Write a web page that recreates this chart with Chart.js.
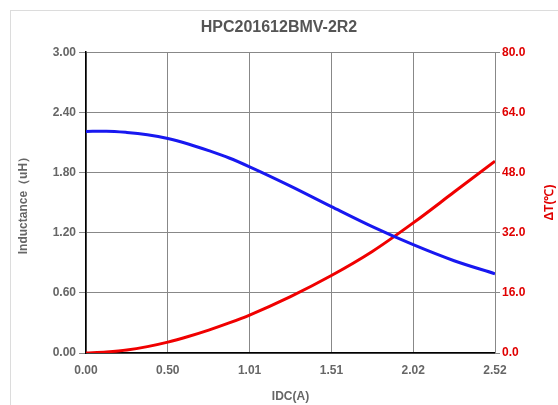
<!DOCTYPE html>
<html>
<head>
<meta charset="utf-8">
<script src="https://cdn.jsdelivr.net/npm/chart.js@4"></script>
<style>
  html, body { margin: 0; padding: 0; background: #fff; }
  #wrap { position: relative; width: 558px; height: 405px; }
  #frame { position: absolute; left: 10px; top: 10px; width: 600px; height: 500px;
           border-left: 1px solid #dcdcdc; border-top: 1px solid #dcdcdc; }
  canvas { position: absolute; left: 0; top: 0; }
</style>
</head>
<body>
<div id="wrap">
  <div id="frame"></div>
  <canvas id="chart" width="558" height="405"></canvas>
</div>
<script>
const chartTitle = 'HPC201612BMV-2R2';
const idc = [0, 0.126, 0.252, 0.378, 0.504, 0.63, 0.756, 0.882, 1.008, 1.26, 1.512, 1.764, 2.016, 2.268, 2.52];
const inductance = [2.21, 2.212, 2.20, 2.177, 2.14, 2.085, 2.018, 1.945, 1.857, 1.665, 1.46, 1.26, 1.08, 0.92, 0.79];
const deltaT = [0, 0.3, 0.8, 1.7, 2.9, 4.4, 6.1, 8.0, 10.1, 15.0, 20.6, 27.0, 34.6, 42.8, 51.0];

const xTicks = [0, 0.504, 1.008, 1.512, 2.016, 2.52];
const xTickLabels = ['0.00', '0.50', '1.01', '1.51', '2.02', '2.52'];
const yTicks = [0, 0.6, 1.2, 1.8, 2.4, 3.0];
const yTickLabels = ['0.00', '0.60', '1.20', '1.80', '2.40', '3.00'];
const tTicks = [0, 16, 32, 48, 64, 80];
const tTickLabels = ['0.0', '16.0', '32.0', '48.0', '64.0', '80.0'];

const rightTitle = 'ΔT(℃)';
const gray = '#666';
const red = '#e00000';

// right axis title reads bottom-to-top, chart.js would rotate it the other way
const rightTitlePlugin = {
  id: 'rightTitle',
  afterDraw(chart) {
    const ctx = chart.ctx;
    const area = chart.chartArea;
    ctx.save();
    ctx.translate(550, (area.top + area.bottom) / 2);
    ctx.rotate(-Math.PI / 2);
    ctx.font = 'bold 12px "Liberation Sans", Arial, sans-serif';
    ctx.fillStyle = red;
    ctx.textAlign = 'center';
    ctx.textBaseline = 'middle';
    ctx.fillText(rightTitle, 0, 0);
    ctx.restore();
  }
};

const font = { family: '"Liberation Sans", Arial, sans-serif', size: 12, weight: 'bold' };

new Chart(document.getElementById('chart'), {
  type: 'line',
  data: {
    datasets: [
      {
        label: 'Inductance',
        data: idc.map((x, i) => ({ x: x, y: inductance[i] })),
        borderColor: '#1818f0',
        borderWidth: 3,
        pointRadius: 0,
        cubicInterpolationMode: 'monotone',
        yAxisID: 'y'
      },
      {
        label: 'ΔT',
        data: idc.map((x, i) => ({ x: x, y: deltaT[i] })),
        borderColor: '#f00000',
        borderWidth: 3,
        pointRadius: 0,
        cubicInterpolationMode: 'monotone',
        yAxisID: 'y1'
      }
    ]
  },
  options: {
    responsive: false,
    animation: false,
    layout: { padding: 0 },
    plugins: {
      legend: { display: false },
      tooltip: { enabled: false },
      title: {
        display: true,
        text: chartTitle,
        color: '#555',
        font: { family: font.family, size: 16, weight: 'bold' },
        padding: { top: 18, bottom: 15 }
      }
    },
    scales: {
      x: {
        type: 'linear',
        min: 0,
        max: 2.52,
        afterBuildTicks: s => { s.ticks = xTicks.map(v => ({ value: v })); },
        afterFit: s => { s.height = 52; },
        ticks: { callback: (v, i) => xTickLabels[i], color: gray, font: font, padding: 10, maxRotation: 0 },
        grid: { color: '#888', drawTicks: false },
        border: { color: '#000', width: 1.5 },
        title: { display: true, text: 'IDC(A)', color: gray, font: font, padding: { top: 0, bottom: 1 } }
      },
      y: {
        position: 'left',
        min: 0,
        max: 3,
        afterBuildTicks: s => { s.ticks = yTicks.map(v => ({ value: v })); },
        afterFit: s => { s.width = 86; },
        ticks: { callback: (v, i) => yTickLabels[i], color: gray, font: font, padding: 3 },
        grid: { color: '#888', tickLength: 7 },
        border: { color: '#000', width: 1.5 },
        title: { display: true, text: 'Inductance（uH）', color: gray, font: font, padding: { top: 16, bottom: 0 } }
      },
      y1: {
        position: 'right',
        min: 0,
        max: 80,
        afterBuildTicks: s => { s.ticks = tTicks.map(v => ({ value: v })); },
        afterFit: s => { s.width = 63; },
        ticks: { callback: (v, i) => tTickLabels[i], color: red, font: font, padding: 2 },
        grid: { drawOnChartArea: false, color: '#888', tickLength: 5 },
        border: { color: '#888' }
      }
    }
  },
  plugins: [rightTitlePlugin]
});
</script>
</body>
</html>
